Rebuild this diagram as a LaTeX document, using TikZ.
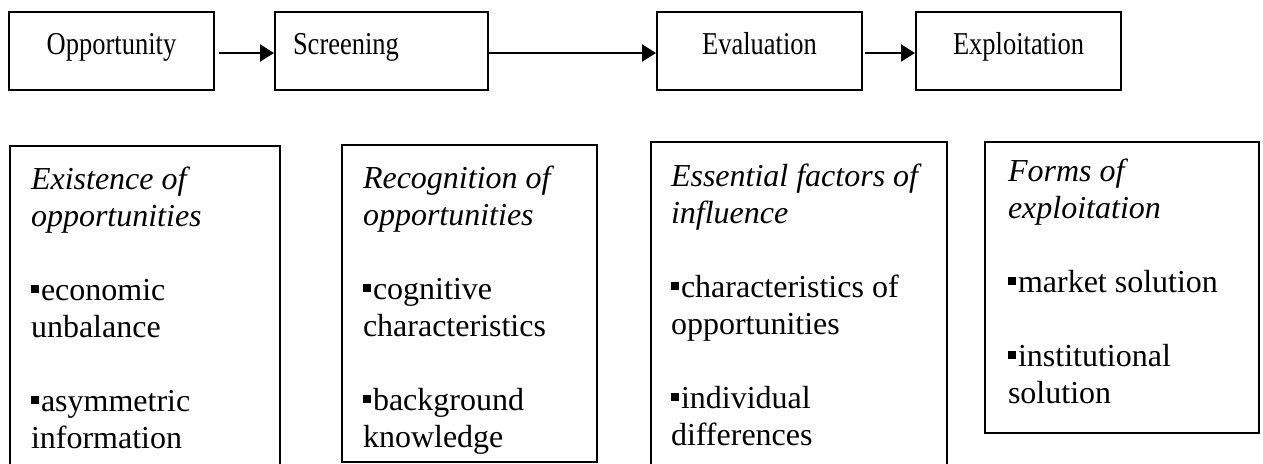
\documentclass[tikz,border=0pt]{standalone}
\usepackage{fontspec}
\setmainfont{Liberation Serif}
\usetikzlibrary{arrows.meta}
\newcommand{\sqb}{\rule[7pt]{8pt}{8pt}\hspace{2pt}}
\newcommand{\topfont}{\fontsize{26.5}{30}\selectfont}
\newcommand{\botfont}{\fontsize{32}{37}\selectfont}
\newcommand{\toptext}[1]{\scalebox{1}[1.2]{#1}}
\begin{document}
\begin{tikzpicture}[x=1pt,y=-1pt,
  box/.style={draw, line width=2pt, inner sep=0pt, anchor=north west},
  arr/.style={line width=2pt, -{Triangle[length=14pt,width=17pt]}}]
\useasboundingbox (0,0) rectangle (1263,463);
\clip (0,0) rectangle (1263,463);
% top row
\node[box] (o) at (8,11) {\parbox[c][78pt][t]{205pt}{\centering\topfont\rule{0pt}{42pt}\toptext{Opportunity}}};
\node[box] (s) at (274,11) {\parbox[c][78pt][t]{213pt}{\raggedright\leftskip=18pt\topfont\rule{0pt}{42pt}\toptext{Screening}}};
\node[box] (e) at (656,11) {\parbox[c][78pt][t]{205pt}{\centering\topfont\rule{0pt}{42pt}\toptext{Evaluation}}};
\node[box] (x) at (915,11) {\parbox[c][78pt][t]{205pt}{\centering\topfont\rule{0pt}{42pt}\toptext{Exploitation}}};
\draw[arr] ([xshift=4pt,yshift=-2pt]o.east) -- ([yshift=-2pt]s.west);
\draw[arr] ([yshift=-2pt]s.east) -- ([yshift=-2pt]e.west);
\draw[arr] ([xshift=2pt,yshift=-2pt]e.east) -- ([yshift=-2pt]x.west);
% bottom row
\node[box] (a) at (9,145) {\parbox[c][340pt][t]{270pt}{\botfont\raggedright\leftskip=21pt\rule{0pt}{43pt}\textit{Existence of}\\ \textit{opportunities}\\[37pt] \sqb economic\\ unbalance\\[37pt] \sqb asymmetric\\ information}};
\node[box] (b) at (341,144) {\parbox[c][317pt][t]{255pt}{\botfont\raggedright\leftskip=21pt\rule{0pt}{43pt}\textit{Recognition of}\\ \textit{opportunities}\\[37pt] \sqb cognitive\\ characteristics\\[37pt] \sqb background\\ knowledge}};
\node[box] (c) at (650,141) {\parbox[c][340pt][t]{296pt}{\botfont\raggedright\leftskip=20pt\rule{0pt}{44pt}\textit{Essential factors of}\\ \textit{influence}\\[37pt] \sqb characteristics of\\ opportunities\\[37pt] \sqb individual\\ differences}};
\node[box] (d) at (984,141) {\parbox[c][291pt][t]{274pt}{\botfont\raggedright\leftskip=23pt\rule{0pt}{39pt}\textit{Forms of}\\ \textit{exploitation}\\[37pt] \sqb market solution\\[37pt] \sqb institutional\\ solution}};
\end{tikzpicture}
\end{document}
